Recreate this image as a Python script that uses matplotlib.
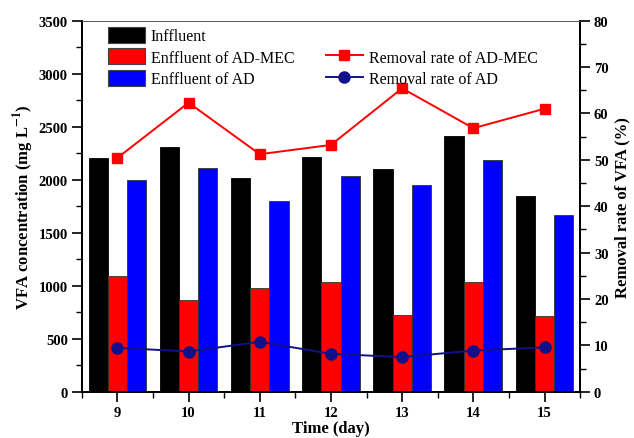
import numpy as np
import matplotlib
matplotlib.use("Agg")
import matplotlib.pyplot as plt
from matplotlib.patches import Patch
from matplotlib.lines import Line2D
from matplotlib.ticker import MultipleLocator

plt.rcParams['font.family'] = ['Liberation Serif', 'DejaVu Serif']
plt.rcParams['mathtext.fontset'] = 'stix'

days = [9, 10, 11, 12, 13, 14, 15]
influent = [2200, 2310, 2015, 2215, 2105, 2410, 1850]
eff_admec = [1095, 870, 980, 1035, 725, 1040, 720]
eff_ad = [1995, 2110, 1800, 2030, 1950, 2190, 1670]
rate_admec = [50.4, 62.3, 51.2, 53.2, 65.4, 56.8, 61.0]
rate_ad = [9.5, 8.7, 10.8, 8.2, 7.5, 8.9, 9.6]

fig = plt.figure(figsize=(6.34, 4.39), dpi=100)
ax = fig.add_axes([0.129, 0.105, 0.786, 0.846])

x = np.array(days, dtype=float)
w = 0.27
ax.bar(x - w, influent, w, color='black', edgecolor='black', linewidth=0.6)
ax.bar(x, eff_admec, w, color='#ff0000', edgecolor='#333333', linewidth=0.6)
ax.bar(x + w, eff_ad, w, color='#0000ff', edgecolor='#333333', linewidth=0.6)

ax.set_xlim(8.5, 15.5)
ax.set_ylim(0, 3500)
ax.set_xticks(days)
ax.xaxis.set_minor_locator(MultipleLocator(0.5))
ax.yaxis.set_major_locator(MultipleLocator(500))
ax.yaxis.set_minor_locator(MultipleLocator(250))
ax.set_xlabel('Time (day)', fontsize=12, fontweight='bold', labelpad=1)
ax.set_ylabel('VFA concentration (mg L$^{\\mathbf{-1}}$)', fontsize=12, fontweight='bold', labelpad=2)

ax2 = ax.twinx()
ax2.plot(days, rate_admec, color='#ff0000', marker='s', markersize=7, linewidth=1.4)
ax2.plot(days, rate_ad, color='#10108a', marker='o', markersize=8, linewidth=1.4)
ax2.set_ylim(0, 80)
ax2.yaxis.set_major_locator(MultipleLocator(10))
ax2.yaxis.set_minor_locator(MultipleLocator(5))
ax2.set_ylabel('Removal rate of VFA (%)', fontsize=12, fontweight='bold', rotation=90, labelpad=4)

for a in (ax, ax2):
    a.tick_params(which='major', direction='out', length=7, width=1.2, labelsize=10.5, pad=3)
    a.tick_params(which='minor', direction='out', length=4, width=1.0)
    for lab in a.get_xticklabels() + a.get_yticklabels():
        lab.set_fontweight('bold')
    for s in ('left', 'right', 'bottom'):
        a.spines[s].set_linewidth(1.3)
    a.spines['top'].set_linewidth(0.6)
    a.spines['top'].set_color('#555555')

handles = [
    Patch(facecolor='black', edgecolor='#444444', linewidth=0.8),
    Patch(facecolor='#ff0000', edgecolor='#444444', linewidth=0.8),
    Patch(facecolor='#0000ff', edgecolor='#444444', linewidth=0.8),
    Line2D([], [], linestyle='none'),
    Line2D([], [], color='#ff0000', marker='s', markersize=7, linewidth=1.4),
    Line2D([], [], color='#10108a', marker='o', markersize=8, linewidth=1.4),
]
labels = ['Inffluent', 'Enffluent of AD-MEC', 'Enffluent of AD', '',
          'Removal rate of AD-MEC', 'Removal rate of AD']
ax2.legend(handles, labels, ncol=2, loc='upper left', bbox_to_anchor=(0.052, 0.983),
           frameon=False, fontsize=11.5, borderpad=0, handlelength=2.35,
           handleheight=1.15, handletextpad=0.35, labelspacing=0.27,
           columnspacing=1.95, borderaxespad=0)

fig.savefig('out.png', dpi=100)
